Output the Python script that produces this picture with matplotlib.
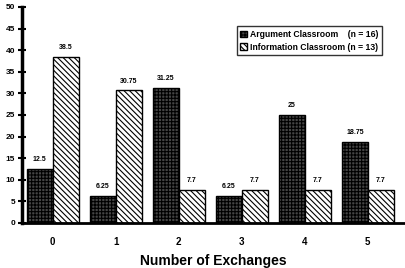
import matplotlib
matplotlib.use("Agg")
import matplotlib.pyplot as plt
import numpy as np

plt.rcParams['font.family'] = ['Liberation Sans', 'DejaVu Sans']
plt.rcParams['hatch.linewidth'] = 0.8

categories = ['0', '1', '2', '3', '4', '5']
argument = [12.5, 6.25, 31.25, 6.25, 25, 18.75]
information = [38.5, 30.75, 7.7, 7.7, 7.7, 7.7]
arg_labels = ['12.5', '6.25', '31.25', '6.25', '25', '18.75']
info_labels = ['38.5', '30.75', '7.7', '7.7', '7.7', '7.7']
yticks = [0, 5, 10, 15, 20, 25, 30, 35, 40, 45, 50]

fig = plt.figure(figsize=(4.05, 2.68), dpi=100)
ax = fig.add_axes([0.054, 0.168, 0.946, 0.806])

x = np.arange(len(categories))
w = 0.41
b1 = ax.bar(x - w/2, argument, w, facecolor='#454545', edgecolor='black',
            hatch='+++++', linewidth=1.0, label='Argument Classroom    (n = 16)')
b2 = ax.bar(x + w/2, information, w, facecolor='white', edgecolor='black',
            hatch='\\\\\\\\\\\\', linewidth=1.0, label='Information Classroom (n = 13)')

for xi, v, t in zip(x - w/2, argument, arg_labels):
    ax.text(xi, v + 1.3, t, ha='center', va='bottom', fontsize=5, fontweight='bold')
for xi, v, t in zip(x + w/2, information, info_labels):
    ax.text(xi, v + 1.3, t, ha='center', va='bottom', fontsize=5, fontweight='bold')

ax.set_xlim(-0.49, 5.59)
ax.set_ylim(0, 50)
ax.set_yticks(yticks)
ax.set_yticklabels([str(v) for v in yticks], fontsize=6, fontweight='bold')
ax.set_xticks(x)
ax.set_xticklabels(categories, fontsize=7, fontweight='bold')
ax.tick_params(axis='y', direction='inout', length=6, width=1.5, pad=2)
ax.tick_params(axis='x', length=0, pad=10)
for s in ['top', 'right']:
    ax.spines[s].set_visible(False)
ax.spines['left'].set_linewidth(2.5)
ax.spines['bottom'].set_linewidth(2.0)

ax.set_xlabel('Number of Exchanges', fontsize=10, fontweight='bold', labelpad=5)

leg = ax.legend(loc='upper left', bbox_to_anchor=(0.55, 0.93),
                prop={'weight': 'bold', 'size': 6.2}, frameon=True, fancybox=False,
                shadow=False, handlelength=0.8, handleheight=0.8, handletextpad=0.3,
                borderpad=0.4, labelspacing=0.45)
leg.get_frame().set_edgecolor('black')
leg.get_frame().set_linewidth(1.0)

fig.savefig('out.png', dpi=100)
